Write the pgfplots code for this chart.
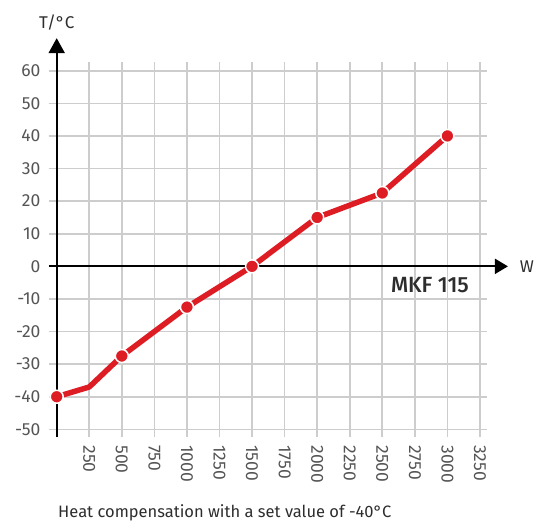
\documentclass[border=0pt]{standalone}
\usepackage{fontspec}
\setmainfont{Fira Sans}
\newfontfamily\mkffont{Fira Sans Medium}
\usepackage{pgfplots}
\pgfplotsset{compat=1.18}
\usetikzlibrary{arrows.meta}
\definecolor{curvered}{RGB}{222,28,36}
\definecolor{gridgray}{RGB}{205,205,205}
\definecolor{tickgray}{RGB}{85,85,85}
\definecolor{textgray}{RGB}{45,45,45}

\begin{document}
\begin{tikzpicture}
\begin{axis}[
    x=0.13024pt, y=3.26pt,
    xmin=-62, xmax=3304, ymin=-52.4, ymax=62.7,
    axis line style={draw=none},
    major tick length=0pt,
    xtick={250,500,...,3250},
    ytick={-50,-40,...,60},
    grid=major,
    grid style={draw=gridgray, line width=1.6pt},
    ticklabel style={font=\fontsize{17.5}{17.5}\selectfont, text=tickgray},
    xticklabel style={rotate=-90, anchor=west, inner xsep=8pt},
    yticklabel style={anchor=east, inner xsep=8pt},
    /pgf/number format/assume math mode=true,
    /pgf/number format/1000 sep={},
    clip=false,
]
% axes with arrows
\draw[line width=2pt, -{Triangle[length=13pt,width=15pt]}]
    (axis cs:-62,0) -- (axis cs:3465,0);
\draw[line width=2pt, -{Triangle[length=15pt,width=16pt]}]
    (axis cs:0,-52.4) -- (axis cs:0,70);
\node[font=\fontsize{17}{17}\selectfont, text=textgray] at (axis cs:0,74.9) {T/°C};
\node[font=\fontsize{17}{17}\selectfont, text=textgray] at (axis cs:3611,0) {W};
\node[font=\fontsize{22}{22}\selectfont\mkffont, text=textgray] at (axis cs:2866,-5.7) {MKF 115};
\node[font=\fontsize{16.5}{16.5}\selectfont, text=textgray, anchor=west, inner sep=0pt]
    at (axis cs:10,-75.7) {Heat compensation with a set value of -40°C};

\addplot[curvered, line width=5.5pt, line join=round] coordinates {
    (0,-40) (250,-37) (500,-27.5) (1000,-12.5) (1500,0) (2000,15) (2500,22.5) (3000,40)
};
\addplot[only marks, mark=*, mark size=6.5pt,
    mark options={fill=curvered, draw=white, line width=1.5pt}] coordinates {
    (0,-40) (500,-27.5) (1000,-12.5) (1500,0) (2000,15) (2500,22.5) (3000,40)
};

\coordinate (bbll) at (axis cs:-435.4,-78.5);
\coordinate (bbur) at (axis cs:3680.3,81.7);
\end{axis}
\pgfresetboundingbox
\path[use as bounding box] (bbll) rectangle (bbur);
\end{tikzpicture}
\end{document}
